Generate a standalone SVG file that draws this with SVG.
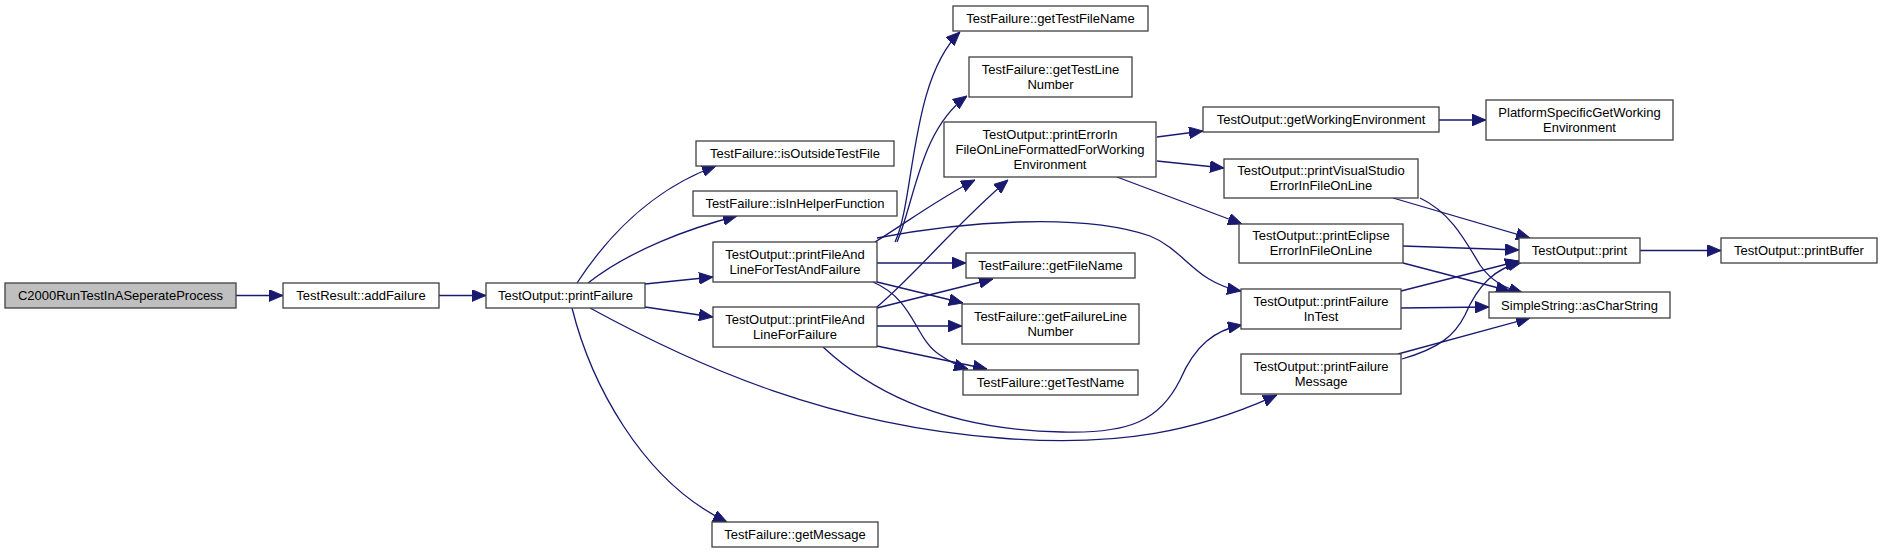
<svg xmlns="http://www.w3.org/2000/svg" width="1881" height="553" viewBox="0 0 1881 553">
<style>
.n rect{fill:#ffffff;stroke:#404040;stroke-width:1.3}
.n.root rect{fill:#bfbfbf}
.n text{font-family:"Liberation Sans",Arial,sans-serif;font-size:13px;fill:#000;text-anchor:middle}
.e path{fill:none;stroke:#191970;stroke-width:1.3;marker-end:url(#ah)}
</style>
<defs>
<marker id="ah" markerUnits="userSpaceOnUse" markerWidth="14" markerHeight="12" viewBox="0 0 13 11" refX="13" refY="5.5" orient="auto">
<path d="M0,0 L13,5.5 L0,11 z" fill="#191970" stroke="#191970" stroke-width="0.8"/>
</marker>
</defs>
<rect width="1881" height="553" fill="#ffffff"/>
<g id="connectors" class="e">
<path d="M236,295.5 L283,295.5"/>
<path d="M439,295.5 L486,295.5"/>
<path d="M577,283 C605,240 650,190 716,166"/>
<path d="M588,283 C630,250 690,228 737,216"/>
<path d="M645,284 L713,277"/>
<path d="M645,307 L713,317"/>
<path d="M572,308 C590,380 640,480 727,522"/>
<path d="M590,308 C700,368 830,425 1000,438 C1120,448 1200,430 1277,395"/>
<path d="M823,347 C880,400 960,430 1062,432 C1130,434 1160,420 1180,380 C1195,345 1215,330 1242,325"/>
<path d="M877,238 C960,222 1080,212 1150,236 C1185,250 1195,283 1241,291"/>
<path d="M895,242 C915,200 910,80 960,32"/>
<path d="M897,242 C915,200 920,130 967,96"/>
<path d="M875,242 C910,220 940,198 975,180"/>
<path d="M877,307 C920,270 960,220 1008,180"/>
<path d="M877,263 L966,263"/>
<path d="M877,282 L963,303"/>
<path d="M873,282 C915,300 915,340 940,355 C950,362 958,366 968,369"/>
<path d="M877,308 L993,279"/>
<path d="M877,326 L962,326"/>
<path d="M877,346 L987,369"/>
<path d="M1157,137 L1203,131"/>
<path d="M1157,161 L1224,168"/>
<path d="M1117,177 L1242,224"/>
<path d="M1439,120 L1486,120"/>
<path d="M1393,198 L1530,238"/>
<path d="M1420,198 C1450,212 1465,240 1480,265 C1492,282 1505,288 1523,293"/>
<path d="M1403,246 L1519,250"/>
<path d="M1403,263 L1510,291"/>
<path d="M1401,291 L1519,261"/>
<path d="M1401,308 L1489,307"/>
<path d="M1402,359 C1440,348 1455,335 1465,315 C1478,285 1495,268 1522,262"/>
<path d="M1398,354 L1530,318"/>
<path d="M1640,250.5 L1721,250.5"/>
</g>
<g id="node_c2000" class="n root"><rect x="5" y="283" width="231" height="25"/><text x="120.5" y="300">C2000RunTestInASeperateProcess</text></g>
<g id="node_addFailure" class="n"><rect x="283" y="283" width="156" height="25"/><text x="361" y="300">TestResult::addFailure</text></g>
<g id="node_printFailure" class="n"><rect x="486" y="283" width="159" height="25"/><text x="565.5" y="300">TestOutput::printFailure</text></g>
<g id="node_isOutsideTestFile" class="n"><rect x="696" y="141" width="198" height="25"/><text x="795" y="158">TestFailure::isOutsideTestFile</text></g>
<g id="node_isInHelperFunction" class="n"><rect x="693" y="191" width="204" height="25"/><text x="795" y="208">TestFailure::isInHelperFunction</text></g>
<g id="node_pflTestAndFailure" class="n"><rect x="713" y="242" width="164" height="40"/><text x="795" y="259">TestOutput::printFileAnd</text><text x="795" y="274">LineForTestAndFailure</text></g>
<g id="node_pflFailure" class="n"><rect x="713" y="307" width="164" height="40"/><text x="795" y="324">TestOutput::printFileAnd</text><text x="795" y="339">LineForFailure</text></g>
<g id="node_getMessage" class="n"><rect x="712" y="522" width="166" height="25"/><text x="795" y="539">TestFailure::getMessage</text></g>
<g id="node_getTestFileName" class="n"><rect x="953" y="6" width="195" height="25"/><text x="1050.5" y="23">TestFailure::getTestFileName</text></g>
<g id="node_getTestLineNumber" class="n"><rect x="969" y="57" width="163" height="40"/><text x="1050.5" y="74">TestFailure::getTestLine</text><text x="1050.5" y="89">Number</text></g>
<g id="node_printErrorIn" class="n"><rect x="944" y="122" width="212" height="55"/><text x="1050" y="139">TestOutput::printErrorIn</text><text x="1050" y="154">FileOnLineFormattedForWorking</text><text x="1050" y="169">Environment</text></g>
<g id="node_getFileName" class="n"><rect x="966" y="253" width="169" height="25"/><text x="1050.5" y="270">TestFailure::getFileName</text></g>
<g id="node_getFailureLineNumber" class="n"><rect x="962" y="304" width="177" height="40"/><text x="1050.5" y="321">TestFailure::getFailureLine</text><text x="1050.5" y="336">Number</text></g>
<g id="node_getTestName" class="n"><rect x="963" y="370" width="175" height="25"/><text x="1050.5" y="387">TestFailure::getTestName</text></g>
<g id="node_getWorkingEnvironment" class="n"><rect x="1203" y="107" width="236" height="25"/><text x="1321" y="124">TestOutput::getWorkingEnvironment</text></g>
<g id="node_platformSpecific" class="n"><rect x="1486" y="100" width="187" height="40"/><text x="1579.5" y="117">PlatformSpecificGetWorking</text><text x="1579.5" y="132">Environment</text></g>
<g id="node_printVisualStudio" class="n"><rect x="1224" y="159" width="194" height="39"/><text x="1321" y="175">TestOutput::printVisualStudio</text><text x="1321" y="190">ErrorInFileOnLine</text></g>
<g id="node_printEclipse" class="n"><rect x="1239" y="224" width="164" height="39"/><text x="1321" y="240">TestOutput::printEclipse</text><text x="1321" y="255">ErrorInFileOnLine</text></g>
<g id="node_printFailureInTest" class="n"><rect x="1241" y="289" width="160" height="40"/><text x="1321" y="306">TestOutput::printFailure</text><text x="1321" y="321">InTest</text></g>
<g id="node_printFailureMessage" class="n"><rect x="1241" y="354" width="160" height="40"/><text x="1321" y="371">TestOutput::printFailure</text><text x="1321" y="386">Message</text></g>
<g id="node_print" class="n"><rect x="1519" y="238" width="121" height="25"/><text x="1579.5" y="255">TestOutput::print</text></g>
<g id="node_printBuffer" class="n"><rect x="1721" y="238" width="156" height="25"/><text x="1799" y="255">TestOutput::printBuffer</text></g>
<g id="node_asCharString" class="n"><rect x="1489" y="292" width="181" height="26"/><text x="1579.5" y="310">SimpleString::asCharString</text></g>
</svg>
